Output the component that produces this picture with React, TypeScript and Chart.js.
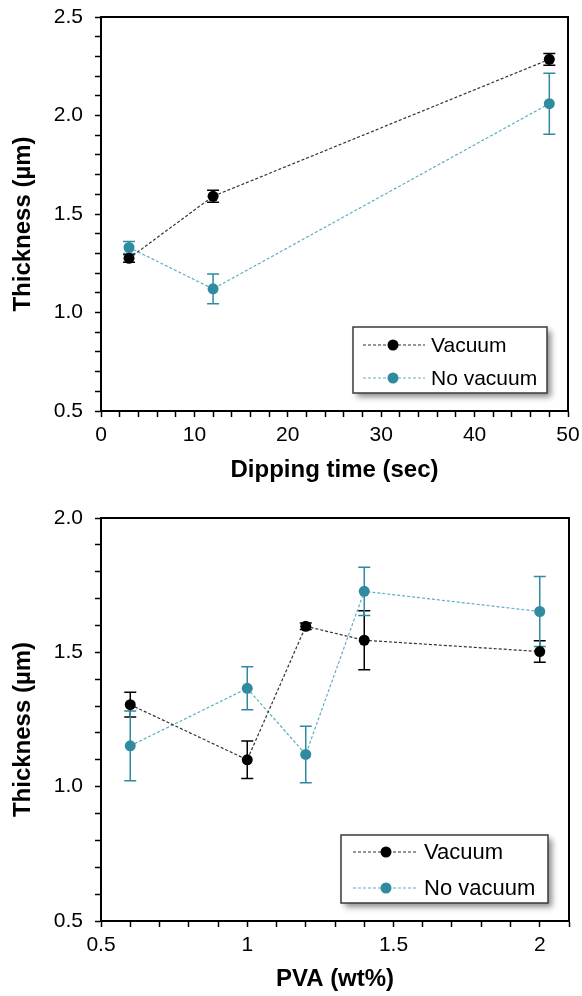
import React, { useEffect, useRef } from 'react';
import { Chart, registerables } from 'chart.js';

Chart.register(...registerables);

// ---------- data ----------
const seriesNames = ['Vacuum', 'No vacuum'];

const dipTime = [3, 12, 48];
const dipVacuum = [1.275, 1.59, 2.285];
const dipVacuumErr = [0.02, 0.03, 0.03];
const dipNoVacuum = [1.33, 1.12, 2.06];
const dipNoVacuumErr = [0.03, 0.075, 0.155];

const pvaContent = [0.6, 1.0, 1.2, 1.4, 2.0];
const pvaVacuum = [1.305, 1.1, 1.597, 1.545, 1.503];
const pvaVacuumErr = [0.046, 0.07, 0.012, 0.11, 0.04];
const pvaNoVacuum = [1.152, 1.366, 1.12, 1.727, 1.652];
const pvaNoVacuumErr = [0.13, 0.08, 0.105, 0.09, 0.13];

const dipXTicks = { min: 0, max: 50, step: 2, labelEvery: 10 };
const dipYTicks = { min: 0.5, max: 2.5, step: 0.1, labelEvery: 0.5 };
const pvaXTicks = { min: 0.5, max: 2.1, step: 0.1, labelEvery: 0.5 };
const pvaYTicks = { min: 0.5, max: 2.0, step: 0.1, labelEvery: 0.5 };

// ---------- styles ----------
const FONT = "'Liberation Sans', Arial, sans-serif";
const BLACK_MARK = '#000000';
const BLACK_LINE = '#333333';
const TEAL_MARK = '#318BA0';
const TEAL_LINE = '#5FAFC4';

const isMultiple = (v: number, m: number) => {
  const r = v / m;
  return Math.abs(r - Math.round(r)) < 1e-6;
};

const errorBarPlugin = {
  id: 'errorBars',
  beforeDatasetsDraw(chart: any) {
    const { ctx } = chart;
    const xs = chart.scales.x;
    const ys = chart.scales.y;
    chart.data.datasets.forEach((ds: any) => {
      const errs: number[] = ds.errors || [];
      ctx.save();
      ctx.strokeStyle = ds.errorColor;
      ctx.lineWidth = 1.5;
      ds.data.forEach((p: any, i: number) => {
        const e = errs[i];
        if (!e) return;
        const px = xs.getPixelForValue(p.x);
        const top = ys.getPixelForValue(p.y + e);
        const bot = ys.getPixelForValue(p.y - e);
        ctx.beginPath();
        ctx.moveTo(px, top);
        ctx.lineTo(px, bot);
        ctx.moveTo(px - 6, top);
        ctx.lineTo(px + 6, top);
        ctx.moveTo(px - 6, bot);
        ctx.lineTo(px + 6, bot);
        ctx.stroke();
      });
      ctx.restore();
    });
  },
};

const frameAndLegendPlugin = {
  id: 'frameLegend',
  afterDraw(chart: any, _args: any, opts: any) {
    const { ctx, chartArea } = chart;
    ctx.save();
    ctx.strokeStyle = '#000';
    ctx.lineWidth = 2;
    ctx.strokeRect(chartArea.left, chartArea.top, chartArea.right - chartArea.left, chartArea.bottom - chartArea.top);
    ctx.restore();

    const L = opts;
    if (!L || !L.width) return;
    const bx = chartArea.right - L.rightGap - L.width;
    const by = chartArea.bottom - L.bottomGap - L.height;
    ctx.save();
    ctx.shadowColor = 'rgba(0,0,0,0.45)';
    ctx.shadowBlur = 6;
    ctx.shadowOffsetX = 4;
    ctx.shadowOffsetY = 4;
    ctx.fillStyle = '#fff';
    ctx.fillRect(bx, by, L.width, L.height);
    ctx.restore();
    ctx.save();
    ctx.strokeStyle = '#3a3a3a';
    ctx.lineWidth = 1.5;
    ctx.strokeRect(bx, by, L.width, L.height);
    chart.data.datasets.forEach((ds: any, i: number) => {
      const ry = by + L.rows[i];
      ctx.beginPath();
      ctx.setLineDash([3, 2]);
      ctx.strokeStyle = ds.borderColor;
      ctx.lineWidth = 1.2;
      ctx.moveTo(bx + L.lineStart, ry);
      ctx.lineTo(bx + L.lineEnd, ry);
      ctx.stroke();
      ctx.setLineDash([]);
      ctx.beginPath();
      ctx.fillStyle = ds.pointBackgroundColor;
      ctx.arc(bx + L.markerX, ry, 5.5, 0, Math.PI * 2);
      ctx.fill();
      ctx.fillStyle = '#000';
      ctx.font = `${L.fontSize}px ${FONT}`;
      ctx.textAlign = 'left';
      ctx.textBaseline = 'middle';
      ctx.fillText(ds.label, bx + L.textX, ry + 1);
    });
    ctx.restore();
  },
};

function makeConfig(p: {
  xs: number[];
  a: number[];
  aErr: number[];
  b: number[];
  bErr: number[];
  xt: any;
  yt: any;
  xLabel: (v: number) => string;
  xTitle: string;
  yTitle: string;
  padTop: number;
  padRight: number;
  xAxisHeight: number;
  xTitlePadBottom: number;
  legend: any;
}) {
  const tickFont = { family: FONT, size: 21 };
  const titleFont = { family: FONT, size: 24, weight: 'bold' as const };
  const grid = { drawOnChartArea: false, drawTicks: true, tickLength: 6, tickWidth: 1.5, tickColor: '#000' };
  const border = { display: true, color: '#000', width: 2 };
  return {
    type: 'line' as const,
    data: {
      datasets: [
        {
          label: seriesNames[0],
          data: p.xs.map((x, i) => ({ x, y: p.a[i] })),
          errors: p.aErr,
          errorColor: BLACK_MARK,
          borderColor: BLACK_LINE,
          borderWidth: 1.2,
          borderDash: [3, 2],
          pointBackgroundColor: BLACK_MARK,
          pointBorderColor: BLACK_MARK,
          pointBorderWidth: 0,
          pointRadius: 5.5,
          tension: 0,
        },
        {
          label: seriesNames[1],
          data: p.xs.map((x, i) => ({ x, y: p.b[i] })),
          errors: p.bErr,
          errorColor: TEAL_MARK,
          borderColor: TEAL_LINE,
          borderWidth: 1.2,
          borderDash: [3, 2],
          pointBackgroundColor: TEAL_MARK,
          pointBorderColor: TEAL_MARK,
          pointBorderWidth: 0,
          pointRadius: 5.5,
          tension: 0,
        },
      ],
    },
    options: {
      responsive: false,
      animation: false as const,
      events: [],
      layout: { padding: { top: p.padTop, right: p.padRight, left: 0, bottom: 0 } },
      plugins: {
        legend: { display: false },
        tooltip: { enabled: false },
        frameLegend: p.legend,
      },
      scales: {
        x: {
          type: 'linear' as const,
          min: p.xt.min,
          max: p.xt.max,
          ticks: {
            stepSize: p.xt.step,
            autoSkip: false,
            maxRotation: 0,
            minRotation: 0,
            padding: 6,
            color: '#000',
            font: tickFont,
            callback: (v: any) => (isMultiple(Number(v), p.xt.labelEvery) ? p.xLabel(Number(v)) : ''),
          },
          grid,
          border,
          title: {
            display: true,
            text: p.xTitle,
            color: '#000',
            font: titleFont,
            padding: { top: 0, bottom: p.xTitlePadBottom },
          },
          afterFit: (s: any) => {
            s.height = p.xAxisHeight;
            s.paddingLeft = 0;
            s.paddingRight = 0;
          },
        },
        y: {
          type: 'linear' as const,
          min: p.yt.min,
          max: p.yt.max,
          ticks: {
            stepSize: p.yt.step,
            autoSkip: false,
            padding: 12,
            color: '#000',
            font: tickFont,
            callback: (v: any) => (isMultiple(Number(v), p.yt.labelEvery) ? Number(v).toFixed(1) : ''),
          },
          grid,
          border,
          title: {
            display: true,
            text: p.yTitle + '\u00a0\u00a0\u00a0',
            color: '#000',
            font: titleFont,
            padding: { top: 9, bottom: 0 },
          },
          afterFit: (s: any) => {
            s.width = 101;
            s.paddingTop = 0;
            s.paddingBottom = 0;
          },
        },
      },
    },
    plugins: [errorBarPlugin, frameAndLegendPlugin],
  };
}

export default function App() {
  const topRef = useRef<HTMLCanvasElement | null>(null);
  const botRef = useRef<HTMLCanvasElement | null>(null);

  useEffect(() => {
    const c1 = new Chart(
      topRef.current as HTMLCanvasElement,
      makeConfig({
        xs: dipTime,
        a: dipVacuum,
        aErr: dipVacuumErr,
        b: dipNoVacuum,
        bErr: dipNoVacuumErr,
        xt: dipXTicks,
        yt: dipYTicks,
        xLabel: (v) => String(Math.round(v)),
        xTitle: 'Dipping time (sec)',
        yTitle: 'Thickness (µm)',
        padTop: 17,
        padRight: 14,
        xAxisHeight: 79,
        xTitlePadBottom: 5,
        legend: { rightGap: 21, bottomGap: 18, width: 194, height: 66, rows: [18, 51], lineStart: 10, lineEnd: 72, markerX: 40, textX: 78, fontSize: 21 },
      }) as any
    );
    const c2 = new Chart(
      botRef.current as HTMLCanvasElement,
      makeConfig({
        xs: pvaContent,
        a: pvaVacuum,
        aErr: pvaVacuumErr,
        b: pvaNoVacuum,
        bErr: pvaNoVacuumErr,
        xt: pvaXTicks,
        yt: pvaYTicks,
        xLabel: (v) => String(Math.round(v * 10) / 10),
        xTitle: 'PVA (wt%)',
        yTitle: 'Thickness (µm)',
        padTop: 28,
        padRight: 13,
        xAxisHeight: 75,
        xTitlePadBottom: 2,
        legend: { rightGap: 21, bottomGap: 18, width: 207, height: 68, rows: [17, 53], lineStart: 12, lineEnd: 76, markerX: 45, textX: 83, fontSize: 22 },
      }) as any
    );
    return () => {
      c1.destroy();
      c2.destroy();
    };
  }, []);

  return (
    <div style={{ position: 'absolute', left: 0, top: 0, width: 582, height: 996, background: '#fff' }}>
      <div style={{ position: 'absolute', left: 0, top: 0, width: 582, height: 490 }}>
        <canvas ref={topRef} width={582} height={490} style={{ width: 582, height: 490, display: 'block' }} />
      </div>
      <div style={{ position: 'absolute', left: 0, top: 490, width: 582, height: 506 }}>
        <canvas ref={botRef} width={582} height={506} style={{ width: 582, height: 506, display: 'block' }} />
      </div>
    </div>
  );
}
